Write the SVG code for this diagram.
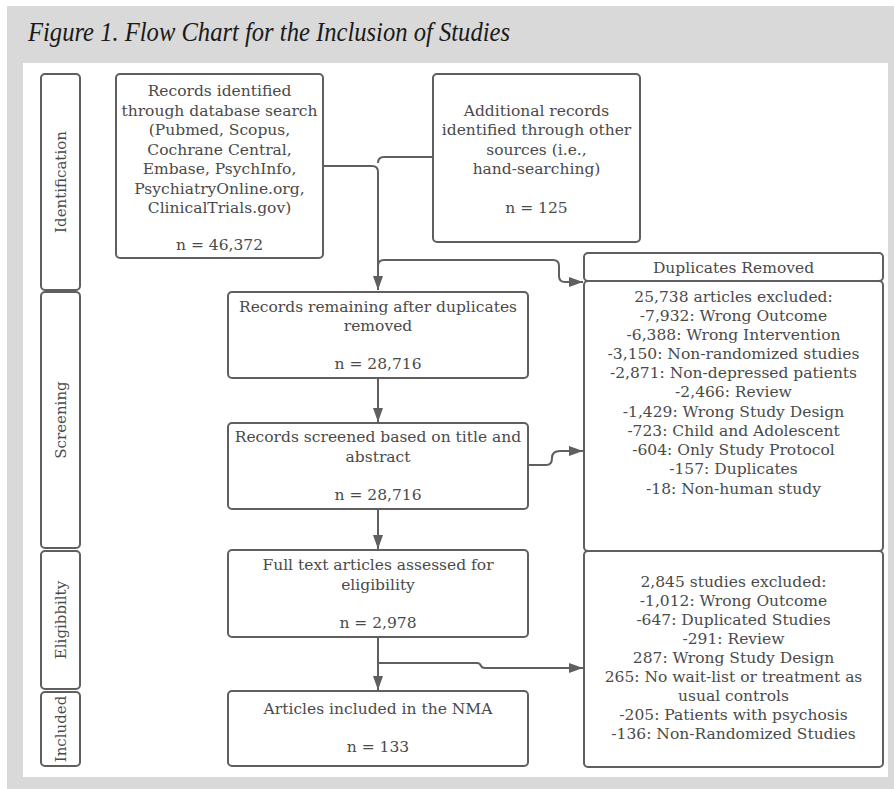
<svg xmlns="http://www.w3.org/2000/svg" width="894" height="789" viewBox="0 0 894 789">
<defs>
<style>
.bx{fill:#fff;stroke:#5f5f5f;stroke-width:2}
.t{font-family:"DejaVu Serif","Liberation Serif",serif;font-size:15.5px;fill:#4a4a4a;text-anchor:middle}
.ln{font-family:"DejaVu Serif","Liberation Serif",serif;font-size:15px;fill:#4a4a4a;text-anchor:middle}
.c{fill:none;stroke:#5f5f5f;stroke-width:2}
</style>
<marker id="ah" viewBox="0 0 14 10" refX="14" refY="5" markerWidth="14" markerHeight="10" markerUnits="userSpaceOnUse" orient="auto">
<path d="M0,0 L14,5 L0,10 Z" fill="#5f5f5f"/>
</marker>
</defs>
<rect x="0" y="0" width="894" height="789" fill="#fff"/>
<rect x="7" y="6" width="887" height="783" fill="#d9d9d9"/>
<rect x="23" y="63" width="865" height="714" fill="#fff"/>
<text x="28" y="41" font-family="'Liberation Serif',serif" font-style="italic" font-size="27" fill="#1a1a1a" textLength="482" lengthAdjust="spacingAndGlyphs">Figure 1. Flow Chart for the Inclusion of Studies</text>

<g id="lane-identification">
<rect class="bx" x="41" y="74" width="39" height="216" rx="4"/>
<text class="ln" transform="translate(66,182) rotate(-90)">Identification</text>
</g>
<g id="lane-screening">
<rect class="bx" x="41" y="292" width="39" height="256" rx="4"/>
<text class="ln" transform="translate(66,420) rotate(-90)">Screening</text>
</g>
<g id="lane-eligibility">
<rect class="bx" x="41" y="551" width="39" height="138" rx="4"/>
<text class="ln" transform="translate(66,620) rotate(-90)">Eligibbilty</text>
</g>
<g id="lane-included">
<rect class="bx" x="41" y="692" width="39" height="74" rx="4"/>
<text class="ln" transform="translate(66,729) rotate(-90)">Included</text>
</g>

<g id="connectors">
<path class="c" d="M323,166 H372 Q378,166 378,172 V290" marker-end="url(#ah)"/>
<path class="c" d="M433,157 H384 Q378,157 378,163"/>
<path class="c" d="M378,266 Q378,260 384,260 H553 Q559,260 559,266 V276 Q559,282 565,282 H583" marker-end="url(#ah)"/>
<path class="c" d="M378,378 V422" marker-end="url(#ah)"/>
<path class="c" d="M528,465 H546 Q552,465 552,458 Q552,451 560,451 H583" marker-end="url(#ah)"/>
<path class="c" d="M378,509 V549" marker-end="url(#ah)"/>
<path class="c" d="M378,637 V690" marker-end="url(#ah)"/>
<path class="c" d="M378,663 H477 Q480,663 481,666 Q482,668 485,668 H583" marker-end="url(#ah)"/>
</g>

<g id="box-database">
<rect class="bx" x="116" y="74" width="207" height="184" rx="4"/>
<text class="t" x="219.5" y="96">Records identified</text>
<text class="t" x="219.5" y="115.5">through database search</text>
<text class="t" x="219.5" y="135">(Pubmed, Scopus,</text>
<text class="t" x="219.5" y="154.5">Cochrane Central,</text>
<text class="t" x="219.5" y="174">Embase, PsychInfo,</text>
<text class="t" x="219.5" y="193.5">PsychiatryOnline.org,</text>
<text class="t" x="219.5" y="213">ClinicalTrials.gov)</text>
<text class="t" x="219.5" y="250">n = 46,372</text>
</g>
<g id="box-additional">
<rect class="bx" x="433" y="74" width="207" height="168" rx="4"/>
<text class="t" x="536.5" y="116">Additional records</text>
<text class="t" x="536.5" y="135">identified through other</text>
<text class="t" x="536.5" y="154.5">sources (i.e.,</text>
<text class="t" x="536.5" y="173.5">hand-searching)</text>
<text class="t" x="536.5" y="212.5">n = 125</text>
</g>
<g id="box-remaining">
<rect class="bx" x="228" y="292" width="300" height="86" rx="4"/>
<text class="t" x="378" y="312">Records remaining after duplicates</text>
<text class="t" x="378" y="331">removed</text>
<text class="t" x="378" y="369">n = 28,716</text>
</g>
<g id="box-screened">
<rect class="bx" x="228" y="423" width="300" height="86" rx="4"/>
<text class="t" x="378" y="442">Records screened based on title and</text>
<text class="t" x="378" y="462">abstract</text>
<text class="t" x="378" y="500">n = 28,716</text>
</g>
<g id="box-fulltext">
<rect class="bx" x="228" y="550" width="300" height="87" rx="4"/>
<text class="t" x="378" y="570">Full text articles assessed for</text>
<text class="t" x="378" y="590">eligibility</text>
<text class="t" x="378" y="628">n = 2,978</text>
</g>
<g id="box-included">
<rect class="bx" x="228" y="691" width="300" height="75" rx="4"/>
<text class="t" x="378" y="714">Articles included in the NMA</text>
<text class="t" x="378" y="752">n = 133</text>
</g>
<g id="box-duplicates">
<rect class="bx" x="584" y="253" width="299" height="28" rx="4"/>
<text class="t" x="733.5" y="273">Duplicates Removed</text>
<rect class="bx" x="584" y="281" width="299" height="270" rx="4"/>
<text class="t" x="733.5" y="301.5">25,738 articles excluded:</text>
<text class="t" x="733.5" y="320.5">-7,932: Wrong Outcome</text>
<text class="t" x="733.5" y="340">-6,388: Wrong Intervention</text>
<text class="t" x="733.5" y="358.5">-3,150: Non-randomized studies</text>
<text class="t" x="733.5" y="378">-2,871: Non-depressed patients</text>
<text class="t" x="733.5" y="397">-2,466: Review</text>
<text class="t" x="733.5" y="416.5">-1,429: Wrong Study Design</text>
<text class="t" x="733.5" y="436">-723: Child and Adolescent</text>
<text class="t" x="733.5" y="455">-604: Only Study Protocol</text>
<text class="t" x="733.5" y="474">-157: Duplicates</text>
<text class="t" x="733.5" y="494">-18: Non-human study</text>
</g>
<g id="box-excluded-eligibility">
<rect class="bx" x="584" y="551" width="299" height="216" rx="4"/>
<text class="t" x="733.5" y="587">2,845 studies excluded:</text>
<text class="t" x="733.5" y="606">-1,012: Wrong Outcome</text>
<text class="t" x="733.5" y="625">-647: Duplicated Studies</text>
<text class="t" x="733.5" y="644">-291: Review</text>
<text class="t" x="733.5" y="663">287: Wrong Study Design</text>
<text class="t" x="733.5" y="682">265: No wait-list or treatment as</text>
<text class="t" x="733.5" y="701">usual controls</text>
<text class="t" x="733.5" y="720">-205: Patients with psychosis</text>
<text class="t" x="733.5" y="739">-136: Non-Randomized Studies</text>
</g>
</svg>
